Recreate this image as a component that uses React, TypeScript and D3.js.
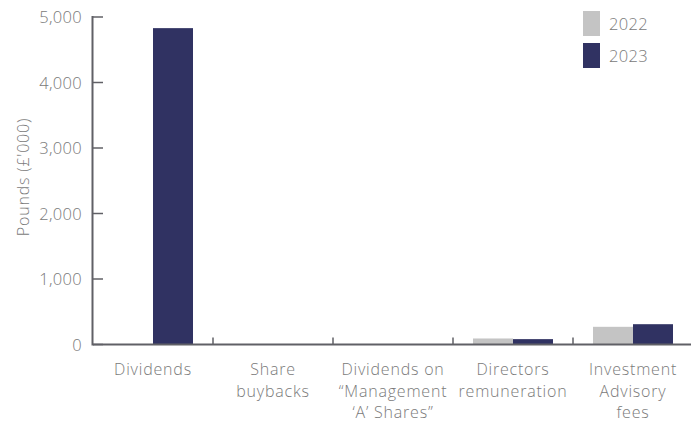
import {scaleBand, scaleLinear, format as d3Format} from "d3";

const CATEGORIES = [
  ["Dividends"],
  ["Share", "buybacks"],
  ["Dividends on", "\u201cManagement", "\u2018A\u2019 Shares\u201d"],
  ["Directors", "remuneration"],
  ["Investment", "Advisory", "fees"]
];
const SERIES = ["2022", "2023"];
const VALUES_2022 = [0, 0, 0, 92, 270];
const VALUES_2023 = [4830, 0, 0, 82, 310];
const Y_TICKS = [0, 1000, 2000, 3000, 4000, 5000];

const COLORS = ["#c4c4c4", "#303262"];
const AXIS = "#606066";
const TEXT = "#7a7a7a";
const FONT = "'Open Sans', Roboto, sans-serif";

export default function App() {
  const width = 691;
  const height = 423;
  const left = 93;
  const baseline = 344.5;
  const top = 17;

  const x = scaleBand<number>()
    .domain(CATEGORIES.map((_, i) => i))
    .range([left, left + 600])
    .paddingInner(1 / 3)
    .paddingOuter(1 / 6);
  const inner = scaleBand<string>().domain(SERIES).range([0, x.bandwidth()]);
  const y = scaleLinear().domain([0, 5000]).range([baseline, top]);
  const fmt = d3Format(",");
  const data = [VALUES_2022, VALUES_2023];

  return (
    <svg
      width={width}
      height={height}
      style={{position: "absolute", left: 0, top: 0, background: "#fff"}}
      fontFamily={FONT}
    >
      {data.map((values, s) =>
        values.map((value, i) => (
          <rect
            key={`${s}-${i}`}
            x={(x(i) ?? 0) + (inner(SERIES[s]) ?? 0)}
            y={y(value)}
            width={inner.bandwidth()}
            height={baseline - y(value)}
            fill={COLORS[s]}
          />
        ))
      )}

      <line x1={left - 0.5} x2={left - 0.5} y1={top - 1} y2={baseline + 1} stroke={AXIS} strokeWidth={2} />
      <line x1={left} x2={width} y1={baseline} y2={baseline} stroke={AXIS} strokeWidth={2} />

      {Y_TICKS.map((tick) => (
        <g key={tick} transform={`translate(0,${y(tick)})`}>
          <line x1={left} x2={left + 10} stroke={AXIS} strokeWidth={1.5} />
          <text x={82} y={6} textAnchor="end" fontSize={16.5} fill={TEXT} fontWeight={300} letterSpacing={0.3}>
            {fmt(tick)}
          </text>
        </g>
      ))}

      {CATEGORIES.slice(1).map((_, i) => {
        const cx = (x(i + 1) ?? 0) - (x.step() - x.bandwidth()) / 2;
        return <line key={i} x1={cx} x2={cx} y1={baseline} y2={baseline - 7} stroke={AXIS} strokeWidth={1.5} />;
      })}

      {CATEGORIES.map((lines, i) => (
        <text
          key={i}
          x={(x(i) ?? 0) + x.bandwidth() / 2}
          y={375}
          textAnchor="middle"
          fontSize={16}
          fill={TEXT}
          fontWeight={300}
          letterSpacing={0.8}
        >
          {lines.map((line, j) => (
            <tspan key={j} x={(x(i) ?? 0) + x.bandwidth() / 2} dy={j === 0 ? 0 : 21.5}>
              {line}
            </tspan>
          ))}
        </text>
      ))}

      <text
        transform={`translate(29,177) rotate(-90)`}
        textAnchor="middle"
        fontSize={16}
        fill={TEXT}
        fontWeight={300}
        letterSpacing={0.8}
      >
        Pounds (£'000)
      </text>

      {SERIES.map((label, s) => (
        <g key={label} transform={`translate(583,${11 + s * 32})`}>
          <rect width={17} height={25} fill={COLORS[s]} />
          <text x={26} y={19} fontSize={16.5} fill={TEXT} fontWeight={300} letterSpacing={0.3}>
            {label}
          </text>
        </g>
      ))}
    </svg>
  );
}
